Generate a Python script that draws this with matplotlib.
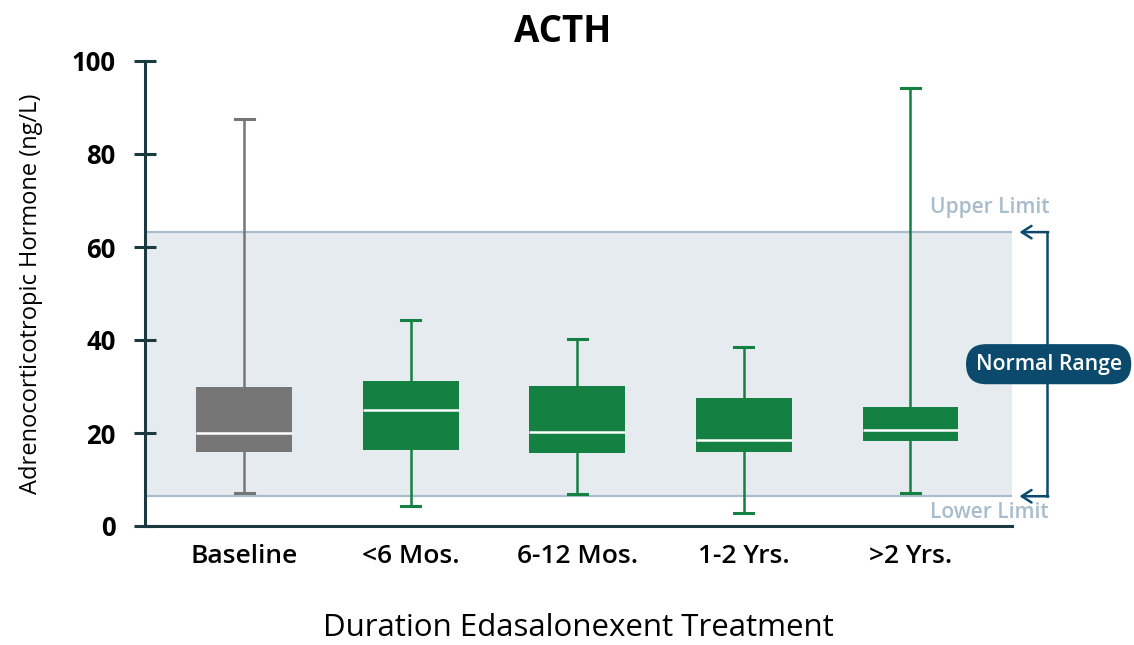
import numpy as np
import matplotlib.pyplot as plt

plt.rcParams['font.family'] = ['Open Sans', 'DejaVu Sans']

# Box summaries per treatment duration (ng/L)
groups = ['Baseline', '<6 Mos.', '6-12 Mos.', '1-2 Yrs.', '>2 Yrs.']
whisker_low = [7.2, 4.2, 6.9, 2.8, 7.2]
q1 = [16.0, 16.3, 15.7, 15.9, 18.2]
median = [20.1, 24.9, 20.2, 18.5, 20.7]
q3 = [29.9, 31.2, 30.1, 27.5, 25.6]
whisker_high = [87.5, 44.2, 40.2, 38.5, 94.2]
box_colors = ['#767676', '#148041', '#148041', '#148041', '#148041']

lower_limit = 6.4
upper_limit = 63.2

axis_col = '#1b3a40'
limit_col = '#a8bccb'
range_col = '#0c4a6d'

fig = plt.figure(figsize=(11.34, 6.45), dpi=100)
ax = fig.add_axes([145 / 1134, 1 - 526 / 645, 867 / 1134, 465 / 645])

pos = np.arange(len(groups))

# normal range band
ax.axhspan(lower_limit, upper_limit, color='#e6ebf0', zorder=0, lw=0)
ax.axhline(upper_limit, color=limit_col, lw=1.6, zorder=1)
ax.axhline(lower_limit, color=limit_col, lw=1.6, zorder=1)

stats = []
for i in range(len(groups)):
    stats.append(dict(whislo=whisker_low[i], q1=q1[i], med=median[i],
                      q3=q3[i], whishi=whisker_high[i], label=groups[i]))

for i, st in enumerate(stats):
    c = box_colors[i]
    ax.bxp([st], positions=[pos[i]], widths=0.575, showfliers=False,
           patch_artist=True,
           boxprops=dict(facecolor=c, edgecolor=c, lw=0),
           medianprops=dict(color='white', lw=1.8),
           whiskerprops=dict(color=c, lw=1.8),
           capprops=dict(color=c, lw=2.2),
           capwidths=0.115, zorder=3)

ax.set_xlim(-0.595, 4.61)
ax.set_ylim(0, 100)
ax.set_yticks([0, 20, 40, 60, 80, 100])
ax.set_xticks(pos)
ax.set_xticklabels(groups, fontsize=19, fontweight='semibold')
for lab in ax.get_yticklabels():
    lab.set_fontsize(18.5)
    lab.set_fontweight('bold')

ax.tick_params(axis='y', direction='inout', length=16, width=2.2,
               color=axis_col, pad=13)
ax.tick_params(axis='x', length=0, pad=13)

for s in ['top', 'right']:
    ax.spines[s].set_visible(False)
for s in ['left', 'bottom']:
    ax.spines[s].set_color(axis_col)
    ax.spines[s].set_linewidth(2.2)

ax.set_title('ACTH', fontsize=26.5, fontweight='bold', pad=14, x=0.4815)
ax.set_ylabel('Adrenocorticotropic Hormone (ng/L)', fontsize=17, labelpad=21)
ax.set_xlabel('Duration Edasalonexent Treatment', fontsize=22.5, labelpad=32)

# limit labels
ax.annotate('Upper Limit', xy=(4.474, upper_limit), xytext=(0, 18),
            textcoords='offset points', ha='center', va='center',
            fontsize=15, fontweight='semibold', color=limit_col,
            annotation_clip=False)
ax.annotate('Lower Limit', xy=(4.474, lower_limit), xytext=(0, -11.5),
            textcoords='offset points', ha='center', va='center',
            fontsize=15, fontweight='semibold', color=limit_col,
            annotation_clip=False)

# bracket marking the normal range
x_br = 4.823
x_tip = 4.655
ax.plot([x_br, x_br], [lower_limit, upper_limit], color=range_col, lw=1.8,
        clip_on=False, zorder=2)
for yv in (upper_limit, lower_limit):
    ax.annotate('', xy=(x_tip, yv), xytext=(x_br + 0.005, yv),
                arrowprops=dict(arrowstyle='->,head_length=0.7,head_width=0.45',
                                color=range_col, lw=1.8,
                                shrinkA=0, shrinkB=0),
                annotation_clip=False)
ax.text(4.83, 34.8, 'Normal Range', ha='center', va='center', fontsize=15.3,
        fontweight='semibold', color='white', zorder=5,
        bbox=dict(boxstyle='round,pad=0.45,rounding_size=0.95',
                  fc=range_col, ec='none'))

fig.savefig('out.png', dpi=100)
